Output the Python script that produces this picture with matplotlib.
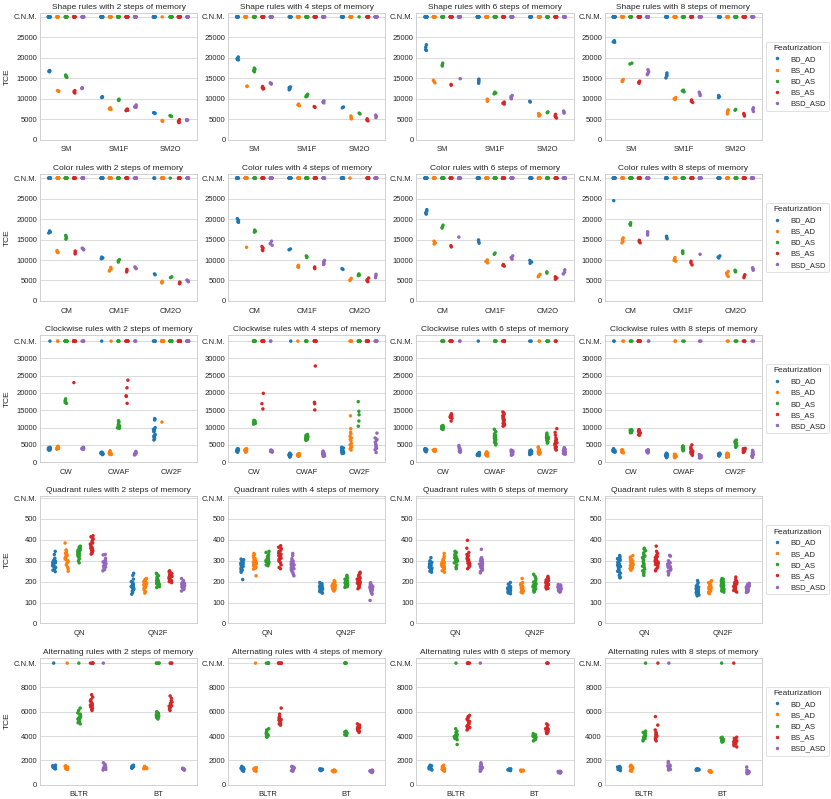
import numpy as np
import pandas as pd
import matplotlib
matplotlib.use("Agg")
import matplotlib.pyplot as plt
import seaborn as sns

C = "C"  # run that could not master the rule (C.N.M.)

HUES = ["BD_AD", "BS_AD", "BD_AS", "BS_AS", "BSD_ASD"]
MEMORY = [2, 4, 6, 8]

SHAPE_CATS = ["SM", "SM1F", "SM2O"]
COLOR_CATS = ["CM", "CM1F", "CM2O"]
CLOCK_CATS = ["CW", "CWAF", "CW2F"]
QUAD_CATS = ["QN", "QN2F"]
ALT_CATS = ["BLTR", "BT"]

# ---------------- Shape rules ----------------
SHAPE_2 = {
    "SM": [[C]*12 + [16900, 16700, 16800, 16600], [C]*12 + [12000, 11800, 11900],
           [C]*12 + [15800, 15400, 15200, 15500], [C]*12 + [12000, 11600, 11400, 11800],
           [C]*12 + [12600, 12500, 12700]],
    "SM1F": [[C]*12 + [10500, 10300, 10400], [C]*12 + [7800, 7500, 7600, 7400],
             [C]*12 + [9900, 9600, 9700], [C]*12 + [7500, 7200, 7300, 7100],
             [C]*12 + [8500, 8000, 8200, 7900]],
    "SM2O": [[C]*12 + [6600, 6400, 6500], [C]*1 + [4700, 4500, 4600],
             [C]*12 + [5900, 5700, 5800], [C]*12 + [4900, 4500, 4300, 4200],
             [C]*12 + [4900, 4700, 4800]],
}
SHAPE_4 = {
    "SM": [[C]*12 + [20200, 19800, 19600, 19500], [C]*12 + [13100, 13000],
           [C]*12 + [17500, 17200, 16900, 16600], [C]*12 + [13000, 12700, 12500, 12400],
           [C]*12 + [13900, 13700, 13600]],
    "SM1F": [[C]*12 + [12900, 12700, 12400, 12200], [C]*12 + [8700, 8500, 8300],
             [C]*12 + [11100, 10800, 10600, 10500], [C]*12 + [8100, 7900],
             [C]*12 + [9500, 9200, 9000]],
    "SM2O": [[C]*12 + [8000, 7800], [C]*12 + [5800, 5400, 5200, 5100],
             [C]*1 + [6500, 6300], [C]*12 + [5100, 4800, 4600],
             [C]*12 + [6000, 5700, 5400]],
}
SHAPE_6 = {
    "SM": [[C]*12 + [23200, 22600, 22000, 21800], [C]*12 + [14500, 14200, 13900],
           [C]*12 + [18700, 18300, 18000], [C]*12 + [13500, 13300],
           [C]*12 + [14900]],
    "SM1F": [[C]*12 + [14800, 14500, 14200, 13800], [C]*12 + [9900, 9700, 9400],
             [C]*12 + [11600, 11400, 11200], [C]*12 + [9200, 8900, 8700],
             [C]*12 + [10800, 10500, 10200, 10000]],
    "SM2O": [[C]*12 + [9400, 9200], [C]*12 + [6400, 6100, 5900, 5800],
             [C]*12 + [6800, 6600], [C]*12 + [6200, 5800, 5500, 5300],
             [C]*12 + [7000, 6700, 6500]],
}
SHAPE_8 = {
    "SM": [[C]*12 + [24200, 23900, 23800], [C]*12 + [14700, 14400, 14200],
           [C]*12 + [18700, 18500], [C]*12 + [14300, 14000, 13800],
           [C]*12 + [17100, 16600, 16200, 15900]],
    "SM1F": [[C]*12 + [16300, 15900, 15600, 15100], [C]*12 + [10300, 10000, 9800],
             [C]*12 + [12100, 11900, 11700], [C]*12 + [9700, 9400, 9100],
             [C]*12 + [11600, 11200, 10800]],
    "SM2O": [[C]*12 + [10800, 10500, 10300], [C]*12 + [7300, 7000, 6700, 6300],
             [C]*12 + [7400, 7200], [C]*12 + [6400, 6100, 5800],
             [C]*12 + [7800, 7400, 6900]],
}

# ---------------- Color rules ----------------
COLOR_2 = {
    "CM": [[C]*12 + [17100, 16800, 16600], [C]*12 + [12300, 12000, 11800],
           [C]*12 + [16000, 15700, 15400, 15100], [C]*12 + [12200, 11800, 11500],
           [C]*12 + [12900, 12700, 12500]],
    "CM1F": [[C]*12 + [10700, 10500, 10300], [C]*12 + [8200, 7800, 7500, 7300],
             [C]*12 + [10100, 9800, 9500], [C]*12 + [7700, 7400, 7100],
             [C]*12 + [8300, 8100, 7900]],
    "CM2O": [[C]*3 + [6600, 6400], [C]*12 + [4800, 4600, 4400],
             [C]*1 + [5900, 5700], [C]*12 + [4600, 4400, 4200],
             [C]*12 + [5100, 4900, 4700]],
}
COLOR_4 = {
    "CM": [[C]*12 + [20100, 19700, 19400, 19200], [C]*12 + [13100],
           [C]*12 + [17300, 17000, 16800], [C]*12 + [13300, 12900, 12500, 12300],
           [C]*12 + [14600, 14000, 13600]],
    "CM1F": [[C]*12 + [12700, 12500], [C]*12 + [8700, 8400, 8200],
             [C]*12 + [11000, 10800, 10600], [C]*12 + [8300, 8100, 7900],
             [C]*12 + [9900, 9500, 9100, 8900]],
    "CM2O": [[C]*12 + [7900, 7700], [C]*1 + [5500, 5200, 5000],
             [C]*0 + [6600, 6300, 6200], [C]*12 + [5600, 5200, 4900, 4700],
             [C]*12 + [6500, 6100, 5700]],
}
COLOR_6 = {
    "CM": [[C]*12 + [22300, 21900, 21500, 21200], [C]*12 + [14600, 14200, 13900],
           [C]*12 + [18500, 18100, 17800], [C]*12 + [13500, 13200],
           [C]*12 + [15600]],
    "CM1F": [[C]*12 + [14900, 14500, 14100], [C]*12 + [10000, 9600, 9300],
             [C]*12 + [11700, 11400], [C]*12 + [8900, 8700, 8500],
             [C]*12 + [11000, 10600, 10200]],
    "CM2O": [[C]*12 + [9900, 9500, 9200], [C]*12 + [6500, 6200, 5900],
             [C]*12 + [7100, 6800], [C]*12 + [5900, 5600, 5300],
             [C]*12 + [7600, 7000, 6600]],
}
COLOR_8 = {
    "CM": [[C]*12 + [24500], [C]*12 + [15400, 15000, 14600, 14200],
           [C]*12 + [19100, 18800, 18500], [C]*12 + [14800, 14500, 14200],
           [C]*12 + [16900, 16500, 16100]],
    "CM1F": [[C]*12 + [15800, 15500, 15200], [C]*12 + [10600, 10200, 9900, 9700],
             [C]*12 + [12200, 11900, 11600], [C]*12 + [9700, 9300, 8800],
             [C]*12 + [11400]],
    "CM2O": [[C]*12 + [11000, 10700, 10500], [C]*12 + [7200, 6800, 6400, 6000],
             [C]*12 + [7500, 7300, 7100], [C]*12 + [6400, 6100, 5700],
             [C]*12 + [8100, 7800, 7500]],
}

# ---------------- Clockwise rules ----------------
CLOCK_2 = {
    "CW": [[C]*1 + [4300, 4200, 4100, 4000, 3950, 3900, 3850, 3800, 3750, 3700, 3650, 3600, 3550, 3500, 4050],
           [C]*2 + [4600, 4450, 4300, 4200, 4100, 4050, 4000, 3950, 3900, 3850, 3800, 4150, 4350, 4000],
           [C]*14 + [18300, 17800, 17500, 17200, 17000],
           [C]*18 + [23000],
           [C]*4 + [4300, 4200, 4100, 4000, 3950, 3900, 3850, 3800, 3750, 3700, 4050, 3980]],
    "CWAF": [[C]*1 + [2900, 2800, 2700, 2600, 2550, 2500, 2450, 2400, 2350, 2300, 2250, 2200, 2600, 2500],
             [C]*1 + [3300, 3000, 2800, 2700, 2600, 2550, 2500, 2450, 2400, 2350, 2300, 2250, 2200, 2650],
             [C]*6 + [12000, 11700, 11200, 10800, 10500, 10300, 10200, 10100, 10000, 9900, 9800, 10400, 10600],
             [C]*14 + [23700, 21500, 19200, 19000, 17000],
             [C]*3 + [3100, 2900, 2800, 2700, 2600, 2550, 2500, 2450, 2400, 2300, 2200, 2100, 2650]],
    "CW2F": [[C]*4 + [12600, 12400, 12200, 10000, 9500, 9300, 9000, 8800, 8000, 7800, 7500, 7200, 7000, 6700, 6400],
             [C]*18 + [11600],
             [C]*19,
             [C]*19,
             [C]*19],
}
CLOCK_4 = {
    "CW": [[3900, 3800, 3700, 3600, 3500, 3400, 3300, 3200, 3100, 3000, 2900, 3550, 3350],
           [3900, 3800, 3700, 3600, 3500, 3400, 3300, 3200, 3100, 3000, 2900, 3450, 3250],
           [C]*10 + [12100, 12000, 11800, 11600, 11400, 11200, 11000, 11700],
           [C]*15 + [19900, 16900, 15400],
           [C]*2 + [3500, 3400, 3300, 3250, 3200, 3150, 3100, 3000, 2900, 3350]],
    "CWAF": [[C]*1 + [2600, 2400, 2300, 2200, 2100, 2000, 1900, 1800, 1700, 1600, 1500, 2250],
             [C]*1 + [2500, 2400, 2300, 2200, 2100, 2000, 1900, 1800, 1700, 2150, 2050],
             [C]*6 + [8000, 7800, 7600, 7400, 7300, 7200, 7100, 7000, 6900, 6800, 6700, 6600, 6500, 6300, 7500],
             [C]*14 + [27800, 17300, 16900, 15100],
             [3200, 3000, 2800, 2600, 2500, 2400, 2300, 2200, 2100, 2000, 1900, 1800, 1700, 2450]],
    "CW2F": [[4300, 4100, 3900, 3700, 3600, 3500, 3400, 3300, 3200, 3100, 3000, 2900, 2800, 2600, 2500],
             [C]*4 + [13400, 9700, 8700, 8200, 7500, 7000, 6600, 6200, 5400, 5000, 4700, 4300, 3900, 3500],
             [C]*12 + [17500, 14700, 13700, 11900, 10400],
             [C]*18,
             [C]*5 + [8400, 7000, 6600, 6400, 5800, 5200, 4800, 4400, 4000, 3600, 2800]],
}
CLOCK_6 = {
    "CW": [[3900, 3800, 3700, 3650, 3600, 3550, 3500, 3400, 3300, 3200, 3000, 3750],
           [3700, 3600, 3550, 3500, 3450, 3400, 3350, 3300, 3200, 3100, 3500],
           [C]*6 + [10600, 10400, 10300, 10200, 10100, 10000, 9900, 9800, 9600, 9500, 10250],
           [C]*10 + [14000, 13700, 13500, 13300, 13100, 12900, 12700, 11900],
           [C]*2 + [4800, 4300, 4000, 3800, 3600, 3400, 3200, 3100, 3000, 2900]],
    "CWAF": [[C]*1 + [2800, 2600, 2500, 2400, 2300, 2200, 2100, 2000, 1900, 2350, 2250],
             [3000, 2800, 2600, 2500, 2400, 2300, 2200, 2100, 2000, 1900, 1800, 2450],
             [C]*5 + [9500, 8800, 8200, 7800, 7400, 7100, 6900, 6700, 6500, 6300, 6000, 5700, 5400, 5000, 7600],
             [C]*8 + [14500, 14200, 13800, 13400, 13000, 12600, 12300, 12000, 11800, 11500, 11200, 10900, 10600, 10400, 12800],
             [3500, 3300, 3100, 2900, 2800, 2700, 2600, 2500, 2400, 2300, 2200, 2000]],
    "CW2F": [[C]*2 + [3500, 3300, 3100, 3000, 2900, 2800, 2700, 2600, 2500, 2400, 2300, 2200],
             [C]*2 + [4400, 4200, 3900, 3600, 3400, 3200, 3000, 2900, 2800, 2700, 2600, 2500, 2400, 2300],
             [C]*4 + [8400, 8000, 7700, 7400, 7200, 7000, 6800, 6600, 6400, 6200, 6000, 5800, 5500, 7100],
             [C]*3 + [9700, 8600, 7800, 7000, 6500, 6200, 5900, 5600, 5300, 5000, 4700, 4400, 4100, 3800, 3500],
             [4200, 3900, 3700, 3500, 3300, 3100, 3000, 2900, 2800, 2600, 2400, 2300]],
}
CLOCK_8 = {
    "CW": [[C]*2 + [3900, 3700, 3600, 3500, 3400, 3300, 3200, 3100, 3000, 2900, 3450],
           [C]*2 + [3600, 3500, 3400, 3300, 3200, 3100, 3000, 2900, 2800, 2700, 3250],
           [C]*3 + [9400, 9300, 9200, 9100, 9000, 8900, 8800, 8700, 8600, 8500, 9050],
           [C]*8 + [9400, 9200, 8900, 8700, 8500, 8300, 8100, 7900, 7800],
           [C]*2 + [3600, 3500, 3400, 3300, 3200, 3100, 3000, 2900, 2800, 2700]],
    "CWAF": [[2600, 2400, 2200, 2100, 2000, 1900, 1800, 1700, 1600, 1500, 1300],
             [C]*2 + [2300, 2100, 2000, 1900, 1800, 1700, 1600, 1500, 1400, 1300],
             [C]*2 + [4700, 4500, 4400, 4300, 4200, 4100, 4000, 3900, 3800, 3700, 3500, 3300],
             [5000, 4300, 3900, 3600, 3400, 3200, 3000, 2800, 2600, 2400, 2200, 2000],
             [C]*2 + [2200, 2000, 1900, 1800, 1700, 1600, 1500, 1400, 1300, 1200]],
    "CW2F": [[2600, 2500, 2400, 2300, 2200, 2100, 2000, 1900, 1800, 2250],
             [C]*2 + [2600, 2400, 2300, 2200, 2100, 2000, 1900, 1800, 1600, 1400],
             [C]*3 + [6400, 6100, 5900, 5700, 5500, 5300, 5100, 5000, 4800, 4600, 4300],
             [C]*4 + [4000, 3900, 3800, 3700, 3600, 3500, 3400, 3300, 3200, 3000, 2800],
             [C]*2 + [3400, 3100, 2800, 2600, 2400, 2200, 2000, 1900, 1800, 1600, 1400]],
}

# ---------------- Quadrant rules ----------------
QUAD_2 = {
    "QN": [[345, 330, 312, 305, 300, 296, 292, 288, 285, 280, 276, 272, 268, 262, 255, 248, 300, 290, 283, 270],
           [385, 352, 345, 338, 330, 325, 320, 315, 310, 305, 300, 290, 280, 270, 262, 250, 335, 318, 308, 295],
           [370, 365, 360, 356, 352, 348, 345, 340, 336, 330, 325, 318, 310, 300, 290, 362, 350, 342, 335, 322],
           [420, 415, 410, 400, 392, 385, 378, 372, 366, 360, 355, 350, 345, 340, 335, 332, 405, 380, 362, 348],
           [330, 328, 312, 305, 300, 296, 292, 288, 285, 282, 278, 274, 270, 265, 258, 252, 295, 287, 280, 290]],
    "QN2F": [[240, 230, 212, 200, 195, 190, 186, 182, 178, 175, 172, 168, 165, 160, 155, 148, 140, 185, 176, 170],
             [215, 212, 208, 205, 200, 197, 194, 190, 187, 184, 180, 176, 172, 168, 160, 152, 145, 203, 192, 182],
             [240, 235, 228, 220, 215, 210, 206, 202, 198, 195, 192, 188, 185, 180, 176, 172, 205, 196, 190, 183],
             [252, 248, 245, 240, 236, 232, 228, 225, 222, 218, 215, 212, 208, 204, 200, 195, 238, 230, 220, 210],
             [215, 205, 198, 195, 192, 188, 185, 182, 180, 178, 175, 172, 170, 166, 162, 155, 190, 184, 176, 173]],
}
QUAD_4 = {
    "QN": [[308, 305, 300, 296, 292, 288, 285, 282, 278, 275, 272, 268, 265, 260, 255, 250, 245, 210, 290, 280],
           [335, 330, 322, 315, 310, 306, 302, 298, 295, 292, 288, 285, 280, 275, 270, 265, 260, 228, 300, 290],
           [345, 340, 330, 325, 320, 316, 312, 308, 304, 300, 297, 294, 290, 287, 284, 280, 276, 302, 296, 292],
           [372, 365, 358, 350, 345, 340, 336, 332, 328, 324, 320, 316, 312, 308, 304, 298, 290, 280, 268, 262],
           [335, 325, 310, 302, 298, 294, 290, 286, 282, 278, 274, 270, 266, 262, 256, 250, 244, 236, 228, 280]],
    "QN2F": [[196, 190, 184, 180, 177, 174, 171, 168, 166, 164, 162, 160, 158, 155, 152, 148, 145, 170, 163, 157],
             [205, 198, 192, 188, 185, 182, 180, 178, 175, 172, 170, 168, 165, 162, 158, 155, 176, 170, 184, 166],
             [230, 225, 218, 212, 206, 202, 198, 195, 192, 190, 188, 185, 182, 180, 176, 172, 196, 186, 200, 178],
             [245, 240, 236, 230, 225, 220, 215, 210, 206, 202, 198, 195, 192, 188, 184, 178, 172, 166, 212, 200],
             [195, 190, 186, 182, 180, 178, 175, 172, 170, 168, 165, 162, 158, 155, 150, 145, 140, 110, 176, 166]],
}
QUAD_6 = {
    "QN": [[315, 300, 296, 292, 288, 285, 282, 279, 276, 273, 270, 268, 265, 262, 258, 255, 250, 245, 280, 272],
           [335, 322, 312, 305, 300, 296, 292, 288, 285, 282, 278, 275, 272, 268, 264, 260, 252, 245, 290, 280],
           [345, 340, 335, 330, 326, 322, 318, 314, 310, 307, 304, 300, 296, 290, 280, 270, 262, 316, 308, 298],
           [398, 360, 340, 330, 325, 320, 316, 312, 308, 304, 300, 296, 292, 288, 284, 280, 275, 268, 262, 310],
           [355, 315, 310, 305, 300, 296, 292, 288, 284, 280, 276, 272, 268, 264, 260, 255, 248, 242, 290, 282]],
    "QN2F": [[196, 188, 180, 176, 172, 170, 168, 166, 164, 162, 160, 158, 156, 154, 152, 150, 146, 142, 170, 161],
             [215, 196, 190, 186, 182, 178, 175, 172, 170, 168, 165, 162, 160, 157, 154, 150, 146, 180, 174, 166],
             [235, 225, 215, 205, 198, 194, 190, 186, 182, 178, 175, 172, 168, 165, 162, 158, 154, 150, 188, 176],
             [225, 220, 214, 208, 204, 200, 196, 192, 190, 188, 186, 184, 182, 180, 178, 175, 172, 168, 165, 195],
             [186, 184, 182, 180, 178, 176, 174, 172, 170, 168, 166, 164, 162, 160, 158, 155, 152, 150, 175, 170]],
}
QUAD_8 = {
    "QN": [[325, 320, 315, 310, 305, 300, 295, 290, 284, 278, 272, 266, 260, 255, 250, 245, 240, 230, 222, 218],
           [325, 318, 312, 306, 302, 298, 295, 292, 289, 286, 283, 280, 277, 274, 271, 268, 265, 262, 258, 255],
           [360, 356, 348, 338, 330, 322, 316, 310, 304, 298, 292, 286, 280, 274, 268, 260, 252, 245, 238, 230],
           [370, 345, 335, 326, 320, 315, 310, 306, 302, 298, 295, 292, 289, 286, 282, 278, 272, 265, 258, 252],
           [326, 322, 300, 295, 290, 286, 283, 280, 277, 274, 271, 268, 264, 260, 255, 250, 245, 240, 232, 284]],
    "QN2F": [[205, 195, 185, 178, 174, 170, 166, 162, 158, 155, 152, 150, 148, 146, 144, 142, 140, 136, 132, 160],
             [205, 200, 195, 188, 182, 178, 175, 172, 170, 168, 165, 162, 160, 158, 155, 152, 150, 146, 142, 174],
             [215, 212, 208, 204, 200, 196, 192, 188, 185, 182, 178, 175, 172, 168, 165, 162, 158, 155, 150, 186],
             [222, 210, 202, 198, 195, 192, 188, 185, 182, 180, 178, 175, 172, 170, 166, 162, 158, 154, 150, 190],
             [192, 188, 185, 182, 180, 178, 176, 174, 172, 170, 168, 166, 164, 162, 160, 158, 155, 152, 148, 175]],
}

# ---------------- Alternating rules ----------------
ALT_2 = {
    "BLTR": [[C]*1 + [1600, 1550, 1500, 1480, 1450, 1420, 1400, 1380, 1350, 1320, 1300, 1460],
             [C]*1 + [1550, 1500, 1480, 1450, 1420, 1400, 1380, 1350, 1320, 1300, 1250, 1430],
             [C]*1 + [6300, 6100, 5900, 5800, 5700, 5600, 5500, 5400, 5300, 5200, 5100, 5000, 5450],
             [C]*5 + [7400, 7200, 7000, 6900, 6800, 6700, 6600, 6500, 6400, 6300, 6200, 6100, 6550],
             [C]*1 + [1800, 1650, 1550, 1500, 1450, 1400, 1350, 1300, 1250, 1200, 1420]],
    "BT": [[1600, 1550, 1500, 1480, 1450, 1420, 1400, 1380, 1350, 1470],
           [1500, 1460, 1420, 1400, 1380, 1360, 1340, 1320, 1300, 1410],
           [C]*4 + [6000, 5900, 5850, 5800, 5750, 5700, 5650, 5600, 5550, 5500, 5400],
           [C]*3 + [7300, 7100, 6900, 6800, 6700, 6600, 6500, 6400, 6300, 6200, 6100, 6450],
           [1350, 1320, 1300, 1280, 1260, 1240, 1220, 1200, 1310]],
}
ALT_4 = {
    "BLTR": [[1500, 1450, 1400, 1350, 1300, 1250, 1200, 1150, 1100, 1380, 1280],
             [C]*1 + [1400, 1350, 1300, 1280, 1250, 1220, 1200, 1150, 1100, 1320],
             [C]*5 + [4600, 4500, 4400, 4300, 4200, 4100, 4050, 4000, 3950, 3900, 4150],
             [C]*6 + [6300, 5800, 5600, 5500, 5400, 5300, 5200, 5100, 5000, 4950, 4900, 5350],
             [1500, 1450, 1400, 1350, 1300, 1250, 1200, 1150, 1100, 1380]],
    "BT": [[1300, 1280, 1260, 1240, 1220, 1200, 1180, 1150, 1250],
           [1200, 1180, 1160, 1140, 1120, 1100, 1080, 1050, 1150],
           [C]*5 + [4400, 4350, 4300, 4250, 4200, 4150, 4100, 4050, 4320],
           [5000, 4900, 4800, 4750, 4700, 4650, 4600, 4550, 4500, 4450, 4400, 4300, 4620],
           [1200, 1150, 1120, 1100, 1080, 1050, 1020, 1000, 1130]],
}
ALT_6 = {
    "BLTR": [[1600, 1550, 1500, 1450, 1400, 1380, 1350, 1300, 1250, 1200, 1420],
             [1600, 1500, 1450, 1400, 1350, 1300, 1250, 1200, 1150, 1100, 1320],
             [C]*1 + [4600, 4400, 4300, 4200, 4100, 4050, 4000, 3950, 3900, 3850, 3800, 3700, 3300],
             [C]*6 + [5700, 5600, 5500, 5400, 5300, 5200, 5100, 5000, 4900, 4800, 4700, 4600, 4500],
             [C]*1 + [1800, 1700, 1600, 1500, 1450, 1400, 1350, 1300, 1250, 1200, 1150, 1100]],
    "BT": [[1300, 1280, 1260, 1240, 1220, 1200, 1180, 1150, 1250],
           [1200, 1180, 1160, 1140, 1120, 1100, 1160],
           [4200, 4100, 4000, 3950, 3900, 3850, 3800, 3750, 3700, 3600, 3920],
           [C]*3 + [5000, 4900, 4700, 4600, 4500, 4450, 4400, 4350, 4300, 4250, 4200, 4550],
           [1100, 1080, 1050, 1020, 1000, 980, 950, 1040]],
}
ALT_8 = {
    "BLTR": [[1500, 1450, 1400, 1380, 1350, 1300, 1250, 1200, 1150, 1420],
             [1600, 1500, 1450, 1400, 1350, 1300, 1250, 1200, 1150, 1100, 1380],
             [C]*1 + [4400, 4300, 4200, 4100, 4000, 3950, 3900, 3850, 3800, 3700, 3600, 4050],
             [C]*1 + [5600, 4900, 4500, 4300, 4200, 4100, 4000, 3950, 3900, 3800, 3700, 3600, 4050],
             [C]*1 + [1900, 1800, 1600, 1500, 1450, 1400, 1350, 1300, 1250, 1200, 1550]],
    "BT": [[1300, 1280, 1260, 1240, 1220, 1200, 1180, 1250],
           [1150, 1120, 1100, 1080, 1060, 1040, 1000, 1110],
           [C]*1 + [3900, 3850, 3800, 3750, 3700, 3650, 3600, 3550, 3500, 3720],
           [C]*1 + [3900, 3800, 3700, 3600, 3500, 3450, 3400, 3350, 3300, 3200, 3100, 3550],
           [1450, 1200, 1100, 1050, 1000, 980, 950, 920, 900, 1080]],
}

# rows: (rule name, categories, panels, C.N.M. value, ytick values, y top)
ROWS = [
    ("Shape", SHAPE_CATS, [SHAPE_2, SHAPE_4, SHAPE_6, SHAPE_8], 30000,
     [0, 5000, 10000, 15000, 20000, 25000], 31000),
    ("Color", COLOR_CATS, [COLOR_2, COLOR_4, COLOR_6, COLOR_8], 30000,
     [0, 5000, 10000, 15000, 20000, 25000], 31000),
    ("Clockwise", CLOCK_CATS, [CLOCK_2, CLOCK_4, CLOCK_6, CLOCK_8], 35000,
     [0, 5000, 10000, 15000, 20000, 25000, 30000], 36700),
    ("Quadrant", QUAD_CATS, [QUAD_2, QUAD_4, QUAD_6, QUAD_8], 600,
     [0, 100, 200, 300, 400, 500], 608),
    ("Alternating", ALT_CATS, [ALT_2, ALT_4, ALT_6, ALT_8], 10000,
     [0, 2000, 4000, 6000, 8000], 10450),
]

PALETTE = dict(zip(HUES, ["#1f77b4", "#ff7f0e", "#2ca02c", "#d62728", "#9467bd"]))

sns.set_theme(style="whitegrid", context="notebook")
plt.rcParams["font.family"] = ["Liberation Sans", "DejaVu Sans"]
plt.rcParams["ytick.major.size"] = 0
plt.rcParams["ytick.major.pad"] = 4
plt.rcParams["axes.labelpad"] = 4
np.random.seed(3)

fig, axes = plt.subplots(5, 4, figsize=(16.62, 15.98), dpi=50)
fig.subplots_adjust(left=0.048, right=0.917, bottom=0.018, top=0.984,
                    wspace=0.197, hspace=0.27)

for r, (rule, cats, panels, cnm, yt, ytop) in enumerate(ROWS):
    for c, panel in enumerate(panels):
        ax = axes[r, c]
        rows = []
        for cat in cats:
            for hue, vals in zip(HUES, panel[cat]):
                for v in vals:
                    rows.append((cat, hue, cnm if v == C else v))
        df = pd.DataFrame(rows, columns=["Rule", "Featurization", "TCE"])
        sns.stripplot(data=df, x="Rule", y="TCE", hue="Featurization",
                      order=cats, hue_order=HUES, palette=PALETTE,
                      dodge=True, jitter=True, size=5, linewidth=0, ax=ax)
        ax.set_xlabel("")
        ax.set_ylabel("TCE" if c == 0 else "")
        ax.set_title(f"{rule} rules with {MEMORY[c]} steps of memory")
        ticks = list(yt) + [cnm]
        ax.set_yticks(ticks)
        ax.set_yticklabels([str(t) for t in yt] + ["C.N.M."])
        ax.tick_params(axis="y", length=0, pad=4)
        ax.set_ylim(0, ytop)
        if c == 3:
            sns.move_legend(ax, "center left", bbox_to_anchor=(1.0, 0.5),
                            title="Featurization")
        else:
            leg = ax.get_legend()
            if leg is not None:
                leg.remove()

fig.savefig("out.png", dpi=50)
